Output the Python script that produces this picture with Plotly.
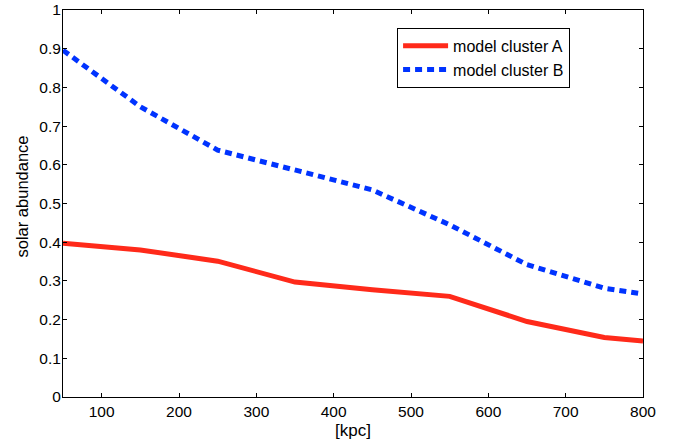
import plotly.graph_objects as go

radius_kpc = [50, 150, 250, 350, 450, 550, 650, 750, 800]
cluster_a = [0.397, 0.380, 0.351, 0.297, 0.277, 0.260, 0.195, 0.154, 0.145]
cluster_b = [0.896, 0.750, 0.638, 0.587, 0.535, 0.445, 0.342, 0.281, 0.266]
x_ticks = [100, 200, 300, 400, 500, 600, 700, 800]

fig = go.Figure()
fig.add_trace(go.Scatter(x=radius_kpc, y=cluster_a, mode="lines", name="model cluster A",
                         line=dict(color="#ff2a1a", width=5)))
fig.add_trace(go.Scatter(x=radius_kpc, y=cluster_b, mode="lines", name="model cluster B",
                         line=dict(color="#0033ff", width=5, dash="7px,5px")))

axis_common = dict(showline=True, linecolor="black", linewidth=1, mirror="ticks",
                   ticks="inside", ticklen=4, tickcolor="black", showgrid=False,
                   zeroline=False, automargin=False,
                   tickfont=dict(family="Liberation Sans, Arial", size=15.5, color="black"))

fig.update_layout(
    width=675, height=443,
    margin=dict(l=63, r=32, t=10, b=46),
    plot_bgcolor="white", paper_bgcolor="white",
    font=dict(family="Liberation Sans, Arial", size=15.5, color="black"),
    xaxis=dict(range=[50, 800], tickmode="array", tickvals=x_ticks, **axis_common),
    yaxis=dict(range=[0, 1], dtick=0.1, tick0=0, ticklabelstandoff=-2, **axis_common),
    legend=dict(x=0.576, y=0.954, xanchor="left", yanchor="top",
                bordercolor="black", borderwidth=1, bgcolor="white",
                font=dict(size=16), tracegroupgap=0, itemwidth=45),
    showlegend=True,
    annotations=[
        dict(text="[kpc]", xref="paper", yref="paper", x=0.5, y=0, xanchor="center",
             yanchor="middle", yshift=-33, showarrow=False, font=dict(size=17)),
        dict(text="solar abundance", xref="paper", yref="paper", x=0, y=0.5, xanchor="center",
             yanchor="middle", xshift=-42, yshift=7, textangle=-90, showarrow=False,
             font=dict(size=16.5)),
    ],
)

fig.write_html("out.html", config={"displayModeBar": False},
               post_script="document.body.style.margin='0';")
